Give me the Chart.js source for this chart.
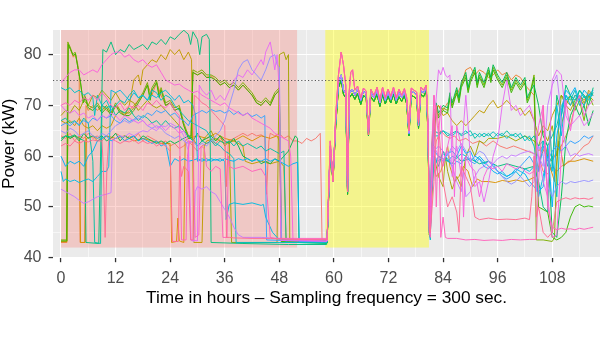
<!DOCTYPE html>
<html><head><meta charset="utf-8">
<script src="https://cdn.jsdelivr.net/npm/chart.js@4/dist/chart.umd.min.js"></script>
<style>html,body{margin:0;padding:0;background:#fff;}#wrap{width:600px;height:337px;}</style>
</head><body><div id="wrap"><canvas id="c" width="600" height="337"></canvas></div>
<script>
// ---------- DATA (hour, kW) pairs ----------
const xTickValues = [0,6,12,18,24,30,36,42,48,54,60,66,72,78,84,90,96,102,108,114];
const yTickValues = [40,45,50,55,60,65,70,75,80];
const xLabelTicks = [0,12,24,36,48,60,72,84,96,108];
const yLabelTicks = [40,50,60,70,80];
const refLine = 75;
const pinkPhase = [0, 51.9];
const yellowPhase = [58.1, 80.9];
const phaseFloor = 42;

const yA = [58.5,43.3, 59.2,62, 59.8,55.5, 60.4,67, 61,74.5, 61.6,76, 62.1,73, 62.6,72.3, 63,53, 63.4,72.3, 64,73.2, 64.6,72, 65.2,73.2, 65.9,71, 66.5,72.8, 67.1,72.2, 67.6,64.5, 68.1,72.5, 68.8,71.5, 69.5,73, 70.1,70.5, 70.7,73, 71.3,71, 71.9,72.6, 72.5,71.2, 73.1,73, 73.7,71, 74.3,72.5, 74.9,71.5, 75.5,72.7, 76,71, 76.5,64.5, 77,72.8, 77.6,72.5, 78.2,72, 78.6,66, 79.1,73, 79.7,72.5, 80.3,73.5, 80.7,65, 81,45];
const yB = [58.5,43.5, 59.2,63, 59.8,55, 60.4,68, 61,76, 61.6,80.5, 62.1,78, 62.6,74, 63,53, 63.3,72, 63.7,76.5, 64.1,77, 64.6,73, 65.2,73.8, 65.9,71.5, 66.5,73.4, 67.1,72.8, 67.6,64.2, 68.1,73.2, 68.8,72, 69.5,73.6, 70.1,71, 70.7,73.6, 71.3,71.5, 71.9,73.2, 72.5,71.8, 73.1,73.6, 73.7,71.5, 74.3,73.2, 74.9,72, 75.5,73.3, 76,71.5, 76.5,65, 77,73.4, 77.6,73, 78.2,72.6, 78.6,66.5, 79.1,73.6, 79.7,73, 80.3,74, 80.7,66, 81,45];
const yC = [58.5,43, 59.2,61, 59.8,55, 60.4,66, 61,73.5, 61.6,75, 62.1,72.2, 62.6,71.5, 63,52.5, 63.4,71.5, 64,72.3, 64.6,71.2, 65.2,72.3, 65.9,70.2, 66.5,72, 67.1,71.4, 67.6,64, 68.1,71.7, 68.8,70.8, 69.5,72.2, 70.1,69.8, 70.7,72.2, 71.3,70.3, 71.9,71.8, 72.5,70.5, 73.1,72.2, 73.7,70.3, 74.3,71.7, 74.9,70.8, 75.5,71.9, 76,70.3, 76.5,64, 77,72, 77.6,71.7, 78.2,71.2, 78.6,65.5, 79.1,72.2, 79.7,71.7, 80.3,72.8, 80.7,64, 81,44.5];

const s00pre = [0,64, 1,63.5, 2,64.5, 3,63, 4,64, 5,63.5, 6,64.5, 7,63.5, 8,64, 9,63, 10,64, 11,63.5, 12,64.5, 13,64, 14,63, 15,64, 16,63.5, 17,64.5, 18,63, 19,64, 20,63.5, 21,63, 22,62.5, 23,63, 24,62, 25,62.5, 26,61.5, 27,62, 28,63, 29,62, 30,61, 31,62, 32,62.5, 33,63, 34,62.5, 35,63.5, 36,63, 36.4,54, 36.8,63, 38,63.5, 39,64, 40,64.5, 41,64, 42,64.5, 43,64, 44,64.2, 44.8,63.8, 45.2,52.5, 45.7,63, 46,64.5, 47,64, 48,64.5, 49,63.5, 50,64, 51,63, 52,63, 53,62.5, 54,63.5, 55,63, 56,63.5, 57,64.5, 57.4,43, 58.4,43.2];
const s00post = [81.1,48, 81.6,55, 82.5,63, 83.5,65, 84.5,64, 85.5,63.5, 86.5,64, 87.5,63, 89,63.5, 90.5,62.5, 92,63, 93.5,62, 95,63, 96.5,62, 98,61.5, 99.5,62, 101,61.5, 102.5,61, 104,60.5, 105,60, 106,57, 107,56.5, 108,58, 109,57, 110,58, 111,58.5, 112,59, 113,60, 114,61, 115,62, 116,62.5, 117,64];

const s01pre = [0,43, 1.3,43, 1.6,82, 2.1,81, 2.7,79.5, 3.2,80, 3.7,78, 4,76, 4.2,43, 5.2,43, 5.5,70, 6,69, 7,70, 8,69, 9,70, 10,69, 11,68.5, 12,70, 13,69, 14,68, 15,69, 16,70, 17,71, 18,72, 19,74, 20,72, 21,74.5, 22,72, 23,70, 24,70.5, 25,69, 26,69.5, 27,66, 28,64, 28.6,63.5, 29,76.5, 30,76, 31,76.5, 32,75.5, 33,75.8, 34,75, 35,74, 36,74.5, 37,73.5, 38,74, 39,73, 40,74, 41,73, 42,72, 43,70.5, 44,70, 45,71, 46,70, 47,72, 48,73, 48.5,43, 52,43, 58.4,43.1];
const s01post = [81.2,45, 81.5,60, 82,68, 83,70, 84,69, 85,70.5, 86,71, 87,72, 88,74, 89,77, 90,77.5, 91,76, 92,77, 93,76.5, 94,75.5, 95,76, 96,77, 97,76, 98,76.5, 99,75, 100,76, 101,75.5, 102,74, 103,73, 104,72, 104.5,62, 105,61, 106,62, 107,60, 108,59, 109,61, 110,62, 111,64, 112,66, 113,70, 114,72, 115,71, 116,72.5, 117,72];

const s02pre = [0,43.2, 1.3,43.2, 1.5,64, 2,63.5, 3,64, 4,63.5, 4.3,43, 5.3,43, 5.6,63.5, 7,64, 8,63, 10,64, 12,63.5, 14,64, 16,63, 18,63.5, 20,63, 22,62.5, 24,62.5, 24.3,43, 25.4,43.2, 25.7,47.8, 26,43.3, 27,43, 27.3,63, 28,63.5, 30,64, 32,63.5, 34,64.5, 36,63.5, 38,63, 40,64, 42,63, 44,64, 46,63.5, 47.5,64, 48,63, 48.5,43.5, 58.4,43];
const s02post = [81.2,47, 81.8,58, 82.5,56, 83.5,57, 84.5,60, 85,62, 85.5,58, 86.5,55, 87.5,56, 88.5,58, 89.5,57, 90.5,54, 91.5,55.5, 92.5,55, 94,55, 95.5,54.8, 97,55.2, 98.5,55, 100,55.3, 101.5,55, 103,55.4, 104.5,56, 105.5,60, 106.5,62, 107.5,58, 108.5,55, 109.5,63, 110.5,58, 111.5,59, 113,59, 115,59.5, 117,59];

const s03pre = [0,67, 1,66.5, 2,67, 3,66, 4,67.5, 5,66, 6,65.5, 7,66, 8,65, 9,66, 10,65.5, 11,66, 12,68, 13,69, 14,68, 15,70, 15.6,73, 16,75, 17,76, 17.5,74, 18,77, 19,78, 20,79, 21,78.5, 22,80, 23,79, 24,81, 25,80, 26,81, 27,79, 28,80.5, 28.7,79, 29.2,43, 31,43, 31.5,62, 32,63, 34,63.5, 36,62.5, 38,63, 40,62, 40.5,59, 42,58.5, 44,59, 46,58.5, 48,59, 49,58, 49.5,43, 58.4,43.4];
const s03post = [81.2,47, 81.5,62, 82,69, 83,70, 84,68, 85,68.5, 86,67, 87,66, 88,67, 89,66, 90,67, 91,68, 92,69, 93,68.5, 94,70, 95,71, 96,69.5, 97,70, 98,71, 99,70, 100,69, 101,69.5, 102,68, 103,69, 104,67, 105,64, 106,66, 107,65, 108,68, 109,70, 110,72, 111,71, 112,70, 113,72, 114,71.5, 115,70, 116,73, 117,72];

const s04pre = [0,68, 1,69, 2,68.5, 3,70, 4,69, 5,71, 6,70, 7,72, 8,71.5, 9,73, 10,72, 11,71, 12,72.5, 13,71, 14,70, 15,71, 16,70.5, 17,69, 18,70, 19,71, 20,70, 21,69.5, 22,70, 23,69, 24,68, 25,67, 26,66, 27,65, 28,64, 29,63.5, 30,62, 31,63, 32,64, 33,65, 34,63, 35,64, 36,62, 37,63, 37.5,43, 47.5,43, 48,80, 49,80.5, 49.5,79, 50,80, 50.3,43, 58.4,43.3];
const s04post = [81.2,46, 82,60, 83,56, 84,54, 84.5,60, 85,57, 86,53.5, 87,56, 88,54, 89,60, 90,62, 91,60, 92,63, 93,62.5, 94,63.5, 96,63.5, 98,64, 100,63, 102,64, 104,63, 105,62, 106,65, 107,63, 108,66, 109,60, 110,66, 111,70, 112,69, 113,71, 114,72, 115,70.5, 116,72, 117,71];

const s05pre = [0,43.5, 1.2,43.5, 1.5,82.5, 2,81.5, 2.6,80, 3.1,80.5, 3.6,78, 4.2,75, 4.8,71, 5.2,72, 6,70, 7,69.5, 8,70.5, 9,69, 10,70, 11,68.5, 12,70.5, 13,69, 14,68.5, 15,68.5, 16,69.5, 17,71, 18,72.5, 19,74.5, 19.6,71.5, 20,73.5, 21,75, 21.6,72, 22,73.5, 23,70.5, 24,71, 25,69.5, 26,70, 27,66.5, 28,64, 28.6,64, 29,77, 30,76.5, 31,77, 32,76, 33,76, 34,75.5, 35,74.5, 36,75, 37,74, 38,74.5, 39,73.5, 40,74.5, 41,73.5, 42,72.5, 43,71, 44,70.5, 45,71.5, 46,70.5, 47,72.5, 48,73.5, 48.4,43.6, 58.4,43.4];
const s05post = [81.2,46, 81.8,62, 82.5,70, 83,68, 84,69.5, 85,69, 85.5,72, 86,70, 87,73, 87.5,71, 88,74, 89,76, 89.5,73, 90,75, 91,77, 91.5,74, 92,76, 93,74, 94,77, 94.5,75, 95,77.5, 96,75.5, 97,74, 98,76, 99,73, 100,75, 101,73.5, 102,75, 102.5,71, 103,72, 104,76, 104.5,43.5, 106,43.5, 108,43.2, 108.5,44, 109,58, 109.5,68, 110,72, 111,70, 112,72, 113,69, 114,71, 115,67, 116,72, 117,70];

const s06pre = [0,43.3, 1.3,43.3, 1.6,82, 2.1,81, 2.7,79.8, 3.2,80.2, 3.7,77.5, 4.3,74.5, 4.9,70.5, 5.3,71.5, 6,69.5, 7,69, 8,70, 9,68.5, 10,69.5, 11,68, 12,70, 13,68.5, 14,68, 15,68, 16,69, 17,70.5, 18,72, 19,74, 19.6,71, 20,73, 21,74.5, 21.6,71.5, 22,73, 23,70, 24,70.5, 25,69, 26,69.5, 27,66, 28,63.5, 28.6,63.5, 29,76.5, 30,76, 31,76.5, 32,75.5, 33,75.5, 34,75, 35,74, 36,74.5, 37,73.5, 38,74, 39,73, 40,74, 41,73, 42,72, 43,70.5, 44,70, 45,71, 46,70, 47,72, 48,73, 48.4,43.2, 58.4,43];
const s06post = [81.2,45.5, 81.8,61, 82.5,69.5, 83,67.5, 84,69, 85,68.5, 85.5,71.5, 86,69.5, 87,72.5, 87.5,70.5, 88,73.5, 89,75.5, 89.5,72.5, 90,74.5, 91,76.5, 91.5,73.5, 92,75.5, 93,73.5, 94,76.5, 94.5,74.5, 95,77, 96,75, 97,73.5, 98,75.5, 99,72.5, 100,74.5, 101,73, 102,74.5, 102.5,70.5, 103,71.5, 104,75.5, 104.5,60, 105,50, 106,49.5, 107,49, 108,44, 109,43.5, 110,44, 111,45, 112,48, 113,50, 114,50.5, 115,50, 116,50.2, 117,50];

const s07pre = [0,63, 1,64, 2,63.5, 3,64, 4,63, 5,64.5, 6,63.5, 7,64, 8,63.5, 9,64, 10,63, 11,63.5, 12,64.5, 13,63, 14,64, 15,63.5, 16,64, 17,63, 18,64, 19,63.5, 20,63, 21,62.5, 22,63, 23,62.5, 24,63, 25,62.5, 26,63, 27,63.5, 28,64, 29,63, 30,64.5, 31,63, 32,63.5, 33,64, 34,63, 35,64, 36,63, 37,62.5, 38,63.5, 39,62, 40,60, 41,59.5, 42,59, 43,59.5, 44,58.5, 45,59, 46,58.5, 47,59.5, 48,59, 49,60, 50,61, 51,63, 51.5,64, 52,63.5, 52.3,43, 58.4,42.8];
const s07post = [81.2,46.5, 81.8,63, 82.5,70.5, 83,68.5, 84,70, 85,69.5, 85.5,72.5, 86,70.5, 87,73.5, 87.5,71.5, 88,74.5, 89,76.5, 89.5,73.5, 90,75.5, 91,77.5, 91.5,74.5, 92,76.5, 93,74.5, 94,77.5, 94.5,75.5, 95,78, 96,76, 97,74.5, 98,76.5, 99,73.5, 100,75.5, 101,74, 102,75.5, 102.5,71.5, 103,72.5, 104,74, 105,70, 106,64, 107,62, 108,45, 109,44, 110,52, 111,63, 112,68, 113,70, 114,68, 115,70, 116,66, 117,69];

const s08pre = [0,63.5, 1,64, 2,63.8, 3,64.2, 4,63.5, 5.2,63, 5.5,43, 8.3,42.8, 8.7,60, 9.2,81, 10,80.5, 11,82.5, 12,80, 13,81, 14,80.5, 15,82, 16,81, 17,81.5, 18,82, 19,81, 20,82.5, 21,82, 22,83, 23,82, 24,83.5, 25,83, 26,84, 27,84.8, 28,84, 28.5,82, 29,84.5, 30,83, 30.5,80, 31,83.5, 32,84, 32.6,83, 33,43, 40,42.8, 50,42.6, 58.4,42.6];
const s08post = [81.2,44, 81.5,55, 82,60, 83,58, 84,61, 85,59, 86,58.5, 87,60, 88,59, 90,59.5, 92,58.5, 94,59, 96,58, 98,58.5, 100,58, 102,57.5, 104,58, 105,55, 106,50, 107,49, 107.5,65, 108,58, 109,72, 110,68, 111,74, 112,72, 113,70, 114,73, 115,72, 116,70, 117,73.5];

const s09pre = [0,67, 1,67.5, 2,66.5, 3,67, 4,66, 5,67.5, 6,66.5, 7,59, 7.4,43, 8.7,42.8, 9,70, 10,69.5, 11,70, 12,68, 13,69, 14,68.5, 15,69.5, 16,68, 17,67, 18,68, 19,67.5, 20,66.5, 21,67, 22,66, 23,67, 24,66, 25,65.5, 26,66, 27,65, 28,64, 29,63, 30,62, 31,63, 32,62.5, 33,63, 34,62, 35,63, 36,62.5, 37,63, 38,62, 39,63, 40,62, 41,62.5, 42,62, 43,61.5, 44,62, 45,61, 46,61.5, 47,61, 48,60.5, 49,61, 49.5,43, 58.4,42.9];
const s09post = [81.2,47, 81.5,62, 82,65, 83,64.5, 84,65, 85,64, 86,64.5, 87,65, 88,64, 89,64.5, 90,65, 91,63.5, 92,64.5, 93,63.8, 94,64.5, 95,63.5, 96,64.5, 97,64, 98,65, 99,64, 100,64.5, 101,63.5, 102,64, 103,63, 104,64, 105,62, 106,63, 107,62, 108,64, 109,66, 110,70, 111,71, 112,72, 113,71, 114,73, 115,71.5, 116,72, 117,72.5];

const s10pre = [0,73.5, 1,73, 2,73.5, 3,72.5, 4,73, 5,72, 6,72.5, 7,71.5, 7.4,68, 8,72, 9,70, 10,71, 11,69, 12,70, 13,71, 14,70.5, 15,72, 16,73, 17,71.5, 18,72, 19,71, 20,73, 21,72.5, 22,71, 23,72, 24,71.5, 25,70, 26,69, 27,68, 28,67, 29,66.5, 30,66, 31,65.5, 32,65, 33,63.5, 34,62.5, 35,62, 36,61, 37,60.5, 38,59.5, 38.5,43, 58.4,43];
const s10post = [81.2,43.5, 81.5,60, 82,64, 83,64, 84,65, 85,64.5, 86,64, 87,64.8, 88,64.3, 89,65, 90,64, 91,64.5, 92,63.8, 93,64.5, 94,64, 95,64.8, 96,64, 97,64.5, 98,63.5, 99,64.3, 100,63.8, 101,64.5, 102,63, 103,64, 104,62, 105,57, 106,63, 107,58, 108,60, 109,52, 110,68, 111,72, 112,71, 113,73, 114,70, 115,72, 116,71, 117,72.5];

const s11pre = [0,57, 0.5,55, 1,55.5, 2,55, 3,55.3, 4,54.8, 5,55.2, 6,55.5, 7,55, 8,56, 9,57, 10,57, 10.5,58, 11,73, 12,72.5, 13,73, 14,72, 15,71, 16,72.5, 17,71.5, 18,72, 19,71, 20,72, 21,71.5, 22,72.5, 23,73, 24,72, 25,71, 26,72, 27,70.5, 28,71, 29,70, 29.6,68, 30,59, 31,59.5, 32,59, 33,59.5, 34,59.2, 35,59.5, 36,59, 36.3,47.5, 37,50.5, 38,50.8, 40,50.5, 42,50.8, 44,50.3, 44.5,50.5, 45,48, 46.5,45, 48,43.5, 58.4,43.2];
const s11post = [81.2,44, 81.4,52, 82,58, 83,60, 84,59.5, 85,59, 86,60, 87,59.5, 88,60.5, 89,60, 90,59, 91,60, 92,59.5, 93,58.5, 94,59, 95,58, 96,57, 97,56.5, 98,56, 99,56.5, 100,57, 101,56, 102,57.5, 103,57, 104,58, 105,52, 106,56, 107,60, 108,57, 109,70, 110,64, 111,72, 112,70, 113,72, 114,71, 115,70, 116,72, 117,72];

const s12pre = [0,60, 1,58, 2,59, 3,58.5, 4,59, 5,58, 6,60, 7,61, 8,63, 9,63.5, 10,64, 11,63, 12,63.5, 13,64, 14,63, 15,63.5, 16,64, 17,63, 18,63.5, 19,63, 20,62.5, 21,63, 22,62, 23,62.5, 24,58, 25,59.5, 26,59, 27,59.5, 28,59, 29,59.2, 30,59.5, 31,59, 32,59.5, 33,59, 34,59.4, 35,59, 36,59.5, 37,59.2, 38,59, 39,59.5, 40,59.2, 41,59.5, 42,59, 43,59.3, 44,59, 45,59.5, 46,59, 47,59.4, 48,59, 49,58.5, 50,58, 51,58.5, 52,58.8, 52.4,43.2, 58.4,43.3];
const s12post = [81.2,48, 81.5,59, 82,61, 83,60, 84,59, 85,60.5, 86,61, 87,60, 88,62, 89,60.5, 90,61, 91,59, 92,60, 93,59, 94,58, 95,57, 96,56.5, 97,57, 98,56, 99,56.5, 100,57.5, 101,57, 102,56.5, 103,55, 104,54, 105,53, 106,54, 107,62, 108,50, 109,64, 110,69, 111,73, 112,72, 113,73.5, 114,71, 115,73, 116,72, 117,73];

const s13pre = [0,66, 1,66.5, 2,66, 3,66.8, 4,66.2, 5,67, 6,66.5, 7,67.5, 8,67, 9,68, 10,67.5, 11,68, 12,67, 13,66.5, 14,67.5, 15,66.8, 16,67.2, 17,68, 18,67.5, 19,68.5, 20,68, 21,69, 22,68.5, 23,69, 24,68, 25,68.5, 26,67.5, 27,67, 28,66, 29,68, 30,68.5, 31,69, 32,68.5, 33,69.2, 34,68.8, 35,69, 36,68.5, 37,69, 38,68.2, 39,68.8, 40,68, 41,68.5, 42,67.8, 43,68.2, 44,67.5, 44.8,68, 45.2,43.5, 58.4,43.1];
const s13post = [81.2,45, 81.5,56, 82,60, 83,59, 84,60.5, 85,59.5, 86,58, 87,59, 88,58.5, 89,60, 90,59, 91,58.5, 92,59.5, 93,58, 94,57.5, 95,58.5, 96,57, 97,56, 98,55.5, 99,56, 100,57, 101,58, 102,59, 103,60, 104,58.5, 105,57, 106,62, 107,59, 108,61, 109,62, 110,61, 111,62, 112,63, 113,62.5, 114,63, 115,64, 116,63.5, 117,64];

const s14pre = [0,65, 1,64.5, 2,65.5, 3,65, 4,64, 5,64.5, 6,65, 7,64, 8,63.5, 9,64.5, 10,64, 11,65, 12,66, 13,66.5, 14,67, 15,66.5, 16,67, 17,67.5, 18,67, 19,66, 20,65.5, 21,66, 22,65.5, 23,64.5, 24,64, 25,63.5, 26,64, 27,63, 28,62.5, 29,63, 30,62, 31,62.5, 32,62, 33,63, 34,64, 35,65, 36,67, 37,70, 38,73, 39,77, 40,78.5, 41,79, 42,77, 43,76, 44,75, 45,77, 46,79.5, 47,80, 47.5,78, 48,77.5, 48.5,43.5, 58.4,43.5];
const s14post = [81.2,46, 81.5,58, 82,61, 83,62, 84,61, 85,60, 86,62, 87,61, 88,62.5, 89,61, 90,59, 91,60, 92,61, 93,60.5, 94,59, 95,58, 96,57, 97,56, 98,55, 99,54.5, 100,55, 101,56, 102,55, 103,54, 104,55, 105,62, 106,60, 107,54, 108,52, 109,54, 110,55, 111,54.5, 112,55, 113,54.8, 114,55, 115,55.2, 116,55, 117,55.3];

const s15pre = [0,53.5, 1,53, 2,52.5, 3,52, 4,51.3, 5,50.7, 6,51, 7,51.5, 8,52, 9,52.3, 10,52.5, 11,52.8, 11.3,63, 12,63.5, 13,64, 14,63.8, 15,64.5, 16,64, 17,64.6, 18,65, 19,64.8, 20,65.5, 21,65, 22,66, 23,65.8, 24,66.5, 25,66, 26,65.5, 27,64, 28,61, 28.5,43.5, 29.2,43.2, 29.5,53, 30,54, 31,53.5, 32,54, 33,53, 34,52.5, 35,51, 36,49.5, 37,48, 38,46, 39,44.5, 40,44, 44,44, 48,43.8, 52,43.6, 58.4,43.6];
const s15post = [81.2,44.5, 81.5,55, 82,62, 83,60, 84,59, 85,61, 86,58, 87,55, 88,53, 88.5,57, 89,52, 90,53, 91,56, 92,57.5, 93,58, 94,59, 95,58.5, 96,59.5, 97,60, 98,59.5, 99,60.2, 100,60, 101,60.5, 102,60.8, 103,61, 104,60.5, 104.5,53, 105,60, 106,58, 107,70, 108,74, 109,76, 109.5,72, 110,66, 111,62, 112,60, 113,60.5, 114,60, 115,60.3, 116,60.5, 117,60.2];

const s16pre = [0,70, 1,69, 2,68.5, 3,69, 4,68, 5,68.5, 6,67.5, 7,68, 8,67, 9,68, 10,67.5, 11,68.5, 12,68, 13,67, 14,68, 15,67.5, 16,67, 17,66.5, 18,67, 19,66, 20,66.5, 21,65.5, 22,66, 23,65, 24,66, 25,65.5, 26,64.5, 27,65, 28,63, 28.6,43.5, 30,43.3, 30.4,74, 31,73, 32,72, 33,73, 34,71, 35,72, 36,71, 37,73, 38,75, 39,76, 40,75.5, 41,77, 42,76, 43,77.5, 44,79, 44.5,78, 45,80.5, 46,82.5, 46.5,80, 47,77, 47.5,80, 48,73, 48.3,43.4, 58.4,43.2];
const s16post = [81.2,45, 82,66, 83,77, 83.5,76, 84,77.5, 84.5,76, 85,75.5, 85.5,76, 86,56, 86.5,60, 87,62, 88,56, 88.5,66, 89,72, 89.5,66, 90,60, 91,54, 92,55, 93,51, 94,55, 95,60, 96,63, 97,70, 98,75, 99,69, 100,70, 101,68, 102,69, 103,70, 104,67, 105,60, 106,55, 107,52, 108,75, 109,77, 110,76, 111,68, 112,66, 113,67, 114,68, 115,66, 116,67, 117,68.5];

const s17pre = [0,74.5, 1,75.5, 2,76.5, 3,77, 4,77, 5,76, 6,76.5, 7,77, 8,76.5, 9,78, 10,79, 11,80, 12,80.5, 13,80.5, 14,79.5, 15,80, 16,79, 17,78.5, 18,79, 19,78, 20,77.5, 21,78, 22,76.5, 23,75, 24,74.5, 25,74, 26,74.2, 27,73.5, 28,73, 29,72.5, 30,72.8, 31,72, 32,71.5, 33,71, 34,70.5, 35,70, 36,70.5, 37,69.5, 38,69, 39,68.5, 40,68, 41,68.5, 42,67.5, 43,67, 44,66.5, 45,66, 46,65.5, 47,64.5, 48,64, 49,63.5, 50,63, 50.5,60, 51,43.5, 58.4,43.3];
const s17post = [81.2,48, 81.5,62, 82,72, 83,64, 83.5,70, 84,58, 85,62, 86,66, 86.5,52, 87,66, 88,62, 88.5,48, 89,60, 90,58, 91,57, 92,52, 93,56, 94,58, 95,57.5, 96,58, 97,57, 98,58.5, 99,58, 100,57.5, 101,58, 102,57, 103,56.5, 104,57, 105,66, 106,70, 107,52, 108,44, 109,44.5, 110,60, 111,71, 112,65, 113,70, 114,72, 115,68, 116,70, 117,71];

const s18pre = [0,70, 1,70.5, 2,70, 3,71, 4,70.5, 5,71.5, 6,71, 7,72, 8,71, 9,72.5, 10,71.5, 11,70, 12,69.5, 13,70.5, 14,69, 15,70, 16,69.5, 17,70, 18,69, 19,70.5, 20,70, 21,71, 22,70, 23,69.5, 24,70.5, 25,69, 26,68, 26.5,43.5, 27.5,43.5, 27.8,60, 28.3,63, 29,62.5, 29.5,44, 30.3,44.5, 30.8,62, 31.5,61.5, 32,58, 33,57, 34,58, 35,57.5, 35.6,44, 36.5,44, 36.8,60, 37,58, 38,57.5, 40,58, 42,57, 44,57.5, 45,56, 46,44, 47,43.8, 58.4,43.8];
const s18post = [81.2,44, 82,72, 82.5,50, 83,64, 83.5,44, 84,48, 84.5,44, 85,43.8, 87,43.8, 89,43.5, 91,43.6, 93,43.4, 95,43.5, 97,43.4, 99,43.6, 101,43.5, 103,43.6, 104.5,43.6, 105,55, 106,70, 107,50, 108,46, 109,45.5, 110,45.8, 111,45.6, 112,45.7, 113,45.5, 114,45.8, 115,45.6, 116,45.8, 117,46];

const s19pre = [0,62, 1,62.5, 2,62, 3,63, 4,62.5, 5,63, 6,62.8, 7,63.2, 8,63, 9,63, 9.3,58, 9.7,44, 10.1,58, 10.5,63, 11,63.5, 12,63, 13,62.5, 14,63, 15,62.8, 16,63.2, 17,62.5, 18,63, 19,62.5, 20,62.8, 21,62, 22,62.5, 23,62, 24,61, 24.5,43.2, 25.8,43.2, 26.1,60, 26.5,56, 27,58, 28,57, 28.5,43.5, 29,43.5, 29.3,72, 30,71.5, 31,70.5, 32,70, 33,69, 34,68, 35,67, 36,66, 36.4,44, 37,44, 38,43.9, 42,43.8, 46,43.8, 50,43.6, 58.4,43.6];
const s19post = [81.2,45, 82,55, 82.5,70, 83,66, 84,55, 85,50, 86,52, 87,49, 87.5,45, 88,58, 89,56, 90,54, 91,48, 92,47.5, 94,47.8, 96,47.5, 98,47.6, 100,47.5, 102,47.8, 103,47.5, 103.5,52, 104,60, 104.5,48, 105,50, 106,45, 107,44, 108,45, 109,51, 110,51.5, 111,51.8, 112,51.5, 113,51.8, 114,51.6, 115,51.7, 116,51.5, 117,51.8];

const seriesColors = ['#F8766D','#EA8331','#D89000','#C09B00','#A3A500','#7CAE00','#39B600','#00BB4E','#00BF7D','#00C1A3','#00BFC4','#00BAE0','#00B0F6','#35A2FF','#9590FF','#C77CFF','#E76BF3','#FA62DB','#FF62BC','#FF6C91'];
const seriesParts = [
  [s00pre, yA, s00post], [s01pre, yA, s01post], [s02pre, yA, s02post], [s03pre, yC, s03post],
  [s04pre, yC, s04post], [s05pre, yC, s05post], [s06pre, yC, s06post], [s07pre, yC, s07post],
  [s08pre, yA, s08post], [s09pre, yA, s09post], [s10pre, yA, s10post], [s11pre, yA, s11post],
  [s12pre, yA, s12post], [s13pre, yA, s13post], [s14pre, yA, s14post], [s15pre, yA, s15post],
  [s16pre, yB, s16post], [s17pre, yB, s17post], [s18pre, yB, s18post], [s19pre, yB, s19post]
];

// ---------- BUILD ----------
function toPoints(parts){
  const out = [];
  parts.forEach(a => { for (let i = 0; i + 1 < a.length; i += 2) out.push({x: a[i], y: a[i+1]}); });
  return out;
}
const datasets = seriesParts.map((p, i) => ({
  data: toPoints(p),
  borderColor: seriesColors[i],
  borderWidth: 0.95,
  pointRadius: 0,
  fill: false,
  tension: 0,
  order: seriesParts.length - 1 - i
}));

const FONT = '"Liberation Sans", Arial, Helvetica, sans-serif';

const panelPlugin = {
  id: 'panel',
  beforeDraw(chart){
    const {ctx, chartArea: a} = chart;
    ctx.save(); ctx.fillStyle = '#EBEBEB';
    ctx.fillRect(a.left, a.top, a.right - a.left, a.bottom - a.top);
    ctx.restore();
  },
  beforeDatasetsDraw(chart){
    const {ctx, chartArea: a, scales: {x, y}} = chart;
    ctx.save();
    const yb = y.getPixelForValue(phaseFloor);
    ctx.fillStyle = 'rgba(248,118,109,0.30)';
    let x0 = x.getPixelForValue(pinkPhase[0]), x1 = x.getPixelForValue(pinkPhase[1]);
    ctx.fillRect(x0, a.top, x1 - x0, yb - a.top);
    ctx.fillStyle = 'rgba(255,255,0,0.40)';
    x0 = x.getPixelForValue(yellowPhase[0]); x1 = x.getPixelForValue(yellowPhase[1]);
    ctx.fillRect(x0, a.top, x1 - x0, yb - a.top);
    ctx.restore();
  },
  afterDatasetsDraw(chart){
    const {ctx, chartArea: a, scales: {y}} = chart;
    const yy = Math.round(y.getPixelForValue(refLine)) + 0.5;
    ctx.save();
    ctx.strokeStyle = '#444'; ctx.lineWidth = 0.9; ctx.setLineDash([1.2, 2.2]);
    ctx.beginPath(); ctx.moveTo(a.left, yy); ctx.lineTo(a.right, yy); ctx.stroke();
    ctx.restore();
  },
  afterDraw(chart){
    const {ctx, chartArea: a} = chart;
    ctx.save();
    ctx.fillStyle = '#000';
    ctx.font = '17.3px ' + FONT;
    ctx.textAlign = 'center'; ctx.textBaseline = 'middle';
    ctx.fillText('Time in hours \u2013 Sampling frequency = 300 sec.', (a.left + a.right) / 2, 298.5);
    ctx.translate(9.5, (a.top + a.bottom) / 2);
    ctx.rotate(-Math.PI / 2);
    ctx.fillText('Power (kW)', 0, 0);
    ctx.restore();
  }
};

new Chart(document.getElementById('c'), {
  type: 'line',
  data: { datasets },
  options: {
    responsive: false, animation: false, devicePixelRatio: 1,
    layout: { padding: { top: 30, left: 0, right: 0, bottom: 0 } },
    plugins: { legend: { display: false }, tooltip: { enabled: false } },
    scales: {
      x: {
        type: 'linear', min: -1.76, max: 118.5,
        afterBuildTicks(s){ s.ticks = xTickValues.map(v => ({value: v})); },
        afterFit(s){ s.height = 79.3; },
        border: { display: false },
        grid: {
          color: '#FFFFFF',
          lineWidth: c => (xLabelTicks.includes(c.tick && c.tick.value) ? 1.1 : 0.55),
          drawTicks: true, tickLength: 4.5, tickWidth: 1.3,
          tickColor: c => (xLabelTicks.includes(c.tick && c.tick.value) ? '#333333' : 'rgba(0,0,0,0)')
        },
        ticks: {
          autoSkip: false, maxRotation: 0, padding: 7, color: '#4D4D4D',
          font: { family: FONT, size: 16 },
          callback: v => (xLabelTicks.includes(v) ? String(v) : '')
        }
      },
      y: {
        type: 'linear', min: 40, max: 84.85,
        afterBuildTicks(s){ s.ticks = yTickValues.map(v => ({value: v})); },
        afterFit(s){ s.width = 53; },
        border: { display: false },
        grid: {
          color: '#FFFFFF',
          lineWidth: c => (yLabelTicks.includes(c.tick && c.tick.value) ? 1.1 : 0.55),
          drawTicks: true, tickLength: 4.5, tickWidth: 1.3,
          tickColor: c => (yLabelTicks.includes(c.tick && c.tick.value) ? '#333333' : 'rgba(0,0,0,0)')
        },
        ticks: {
          autoSkip: false, padding: 7, color: '#4D4D4D',
          font: { family: FONT, size: 16 },
          callback: v => (yLabelTicks.includes(v) ? String(v) : '')
        }
      }
    }
  },
  plugins: [panelPlugin]
});
</script></body></html>
